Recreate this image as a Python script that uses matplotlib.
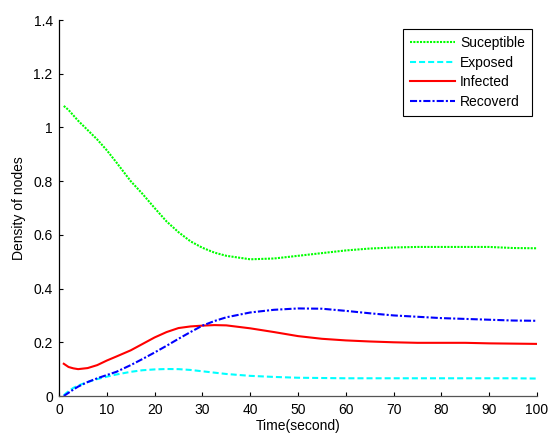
import matplotlib
matplotlib.use("Agg")
import matplotlib.pyplot as plt

plt.rcParams['font.family'] = ['Liberation Sans', 'DejaVu Sans']
plt.rcParams['font.size'] = 10

# time samples (seconds)
t = [1, 2, 3, 4, 6, 8, 10, 12, 15, 17.5, 20, 22.5, 25, 27.5, 30, 32.5, 35,
     40, 45, 50, 55, 60, 65, 70, 75, 80, 85, 90, 95, 100]

suceptible = [1.08, 1.065, 1.045, 1.025, 0.99, 0.955, 0.915, 0.87, 0.80, 0.752,
              0.70, 0.65, 0.61, 0.576, 0.552, 0.534, 0.522,
              0.509, 0.512, 0.522, 0.532, 0.542, 0.549, 0.553, 0.555, 0.555,
              0.555, 0.555, 0.551, 0.550]
exposed = [0.003, 0.018, 0.03, 0.039, 0.052, 0.063, 0.072, 0.08, 0.09, 0.096,
           0.099, 0.1005, 0.100, 0.097, 0.092, 0.087, 0.082,
           0.075, 0.071, 0.068, 0.067, 0.066, 0.066, 0.066, 0.066, 0.066,
           0.066, 0.066, 0.066, 0.065]
infected = [0.12, 0.108, 0.103, 0.100, 0.104, 0.115, 0.132, 0.147, 0.17, 0.194,
            0.218, 0.238, 0.253, 0.259, 0.262, 0.264, 0.263,
            0.252, 0.238, 0.223, 0.213, 0.207, 0.203, 0.200, 0.198, 0.198,
            0.198, 0.196, 0.195, 0.194]
recoverd = [0.0, 0.012, 0.024, 0.035, 0.052, 0.066, 0.078, 0.09, 0.115, 0.138,
            0.162, 0.187, 0.213, 0.238, 0.262, 0.279, 0.293,
            0.311, 0.321, 0.326, 0.325, 0.317, 0.308, 0.300, 0.295, 0.290,
            0.287, 0.284, 0.281, 0.280]

fig = plt.figure(figsize=(5.5, 4.34), dpi=100)
ax = fig.add_axes([59/550, 38/434, 478/550, 376/434])

lw = 1.5
ax.plot(t, suceptible, color='#00ff00', lw=lw, linestyle=(0, (1, 0.6)),
        dash_capstyle='butt', label='Suceptible')
ax.plot(t, exposed, color='#00ffff', lw=lw, linestyle=(0, (2.9, 1.45)),
        label='Exposed')
ax.plot(t, infected, color='#ff0000', lw=lw, linestyle='-', label='Infected')
ax.plot(t, recoverd, color='#0000ff', lw=lw, linestyle=(0, (3.4, 1, 1, 1)),
        label='Recoverd')

ax.set_xlim(0, 100)
ax.set_ylim(0, 1.4)
ax.set_xticks(range(0, 101, 10))
ax.set_yticks([0, 0.2, 0.4, 0.6, 0.8, 1, 1.2, 1.4])
ax.set_yticklabels(['0', '0.2', '0.4', '0.6', '0.8', '1', '1.2', '1.4'])

ax.spines['top'].set_visible(False)
ax.spines['right'].set_visible(False)
ax.spines['left'].set_color('black')
ax.spines['bottom'].set_color('#555555')
ax.spines['left'].set_linewidth(0.9)
ax.spines['bottom'].set_linewidth(0.9)
ax.tick_params(axis='both', direction='in', length=3, width=0.8, colors='black')
ax.tick_params(axis='x', pad=5)
ax.tick_params(axis='y', pad=4.5)

ax.set_xlabel('Time(second)', labelpad=1.5)
ax.set_ylabel('Density of nodes', labelpad=5)

leg = ax.legend(loc='upper right', bbox_to_anchor=(532/550, 1 - 29/434),
                bbox_transform=fig.transFigure, borderaxespad=0,
                fancybox=False, framealpha=1, edgecolor='black',
                handlelength=3.2, handletextpad=0.4, labelspacing=0.4,
                borderpad=0.5)
leg.get_frame().set_linewidth(0.8)

fig.savefig('out.png', dpi=100)
